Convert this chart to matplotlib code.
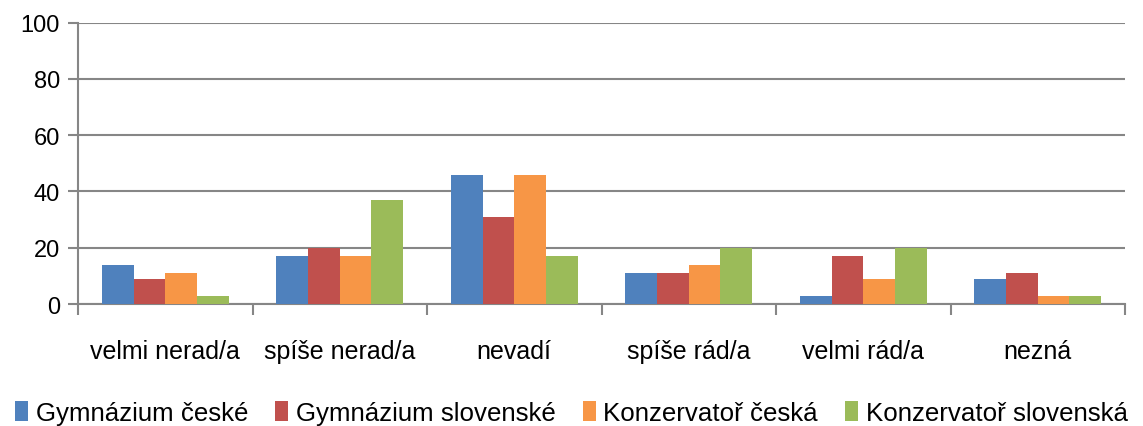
import numpy as np
import matplotlib.pyplot as plt
from matplotlib.patches import Patch

# data
categories = ["velmi nerad/a", "spíše nerad/a", "nevadí", "spíše rád/a", "velmi rád/a", "nezná"]
series_names = ["Gymnázium české", "Gymnázium slovenské", "Konzervatoř česká", "Konzervatoř slovenská"]
gym_cz = [14, 17, 46, 11, 3, 9]
gym_sk = [9, 20, 31, 11, 17, 11]
kons_cz = [11, 17, 46, 14, 9, 3]
kons_sk = [3, 37, 17, 20, 20, 3]
colors = ["#4f81bd", "#c0504d", "#f79646", "#9bbb59"]

plt.rcParams['font.family'] = ['Liberation Sans', 'DejaVu Sans']

fig = plt.figure(figsize=(11.43, 4.27), dpi=100)
ax = fig.add_axes([78 / 1143, 1 - 305 / 427, (1125 - 78) / 1143, (305 - 23.5) / 427])

grid_c = "#868686"
x = np.arange(len(categories))
w = 1 / 5.5
for i, vals in enumerate([gym_cz, gym_sk, kons_cz, kons_sk]):
    ax.bar(x + (i - 1.5) * w, vals, width=w, color=colors[i], zorder=3)

ax.set_xlim(-0.5, len(categories) - 0.5)
ax.set_ylim(0, 100)
ax.set_yticks(range(0, 101, 20))
ax.tick_params(axis='y', labelsize=17, length=7, width=1.5, color=grid_c, pad=6)
ax.yaxis.grid(True, color=grid_c, linewidth=1.5, zorder=0)

ax.set_xticks(x)
ax.set_xticklabels(categories, fontsize=18)
ax.tick_params(axis='x', length=0, pad=25)
ax.set_xticks(np.arange(-0.5, len(categories)), minor=True)
ax.tick_params(axis='x', which='minor', length=8, width=1.5, color=grid_c, direction='out')

for s in ['top', 'right']:
    ax.spines[s].set_visible(False)
for s in ['left', 'bottom']:
    ax.spines[s].set_color(grid_c)
    ax.spines[s].set_linewidth(1.5)

handles = [Patch(facecolor=c) for c in colors]
fig.legend(handles, series_names, loc='center', bbox_to_anchor=(0.5, 1 - 414 / 427), ncol=4,
           frameon=False, fontsize=18.6, handlelength=0.5, handleheight=0.8,
           handletextpad=0.3, columnspacing=1.05)

fig.savefig("out.png", dpi=100)
